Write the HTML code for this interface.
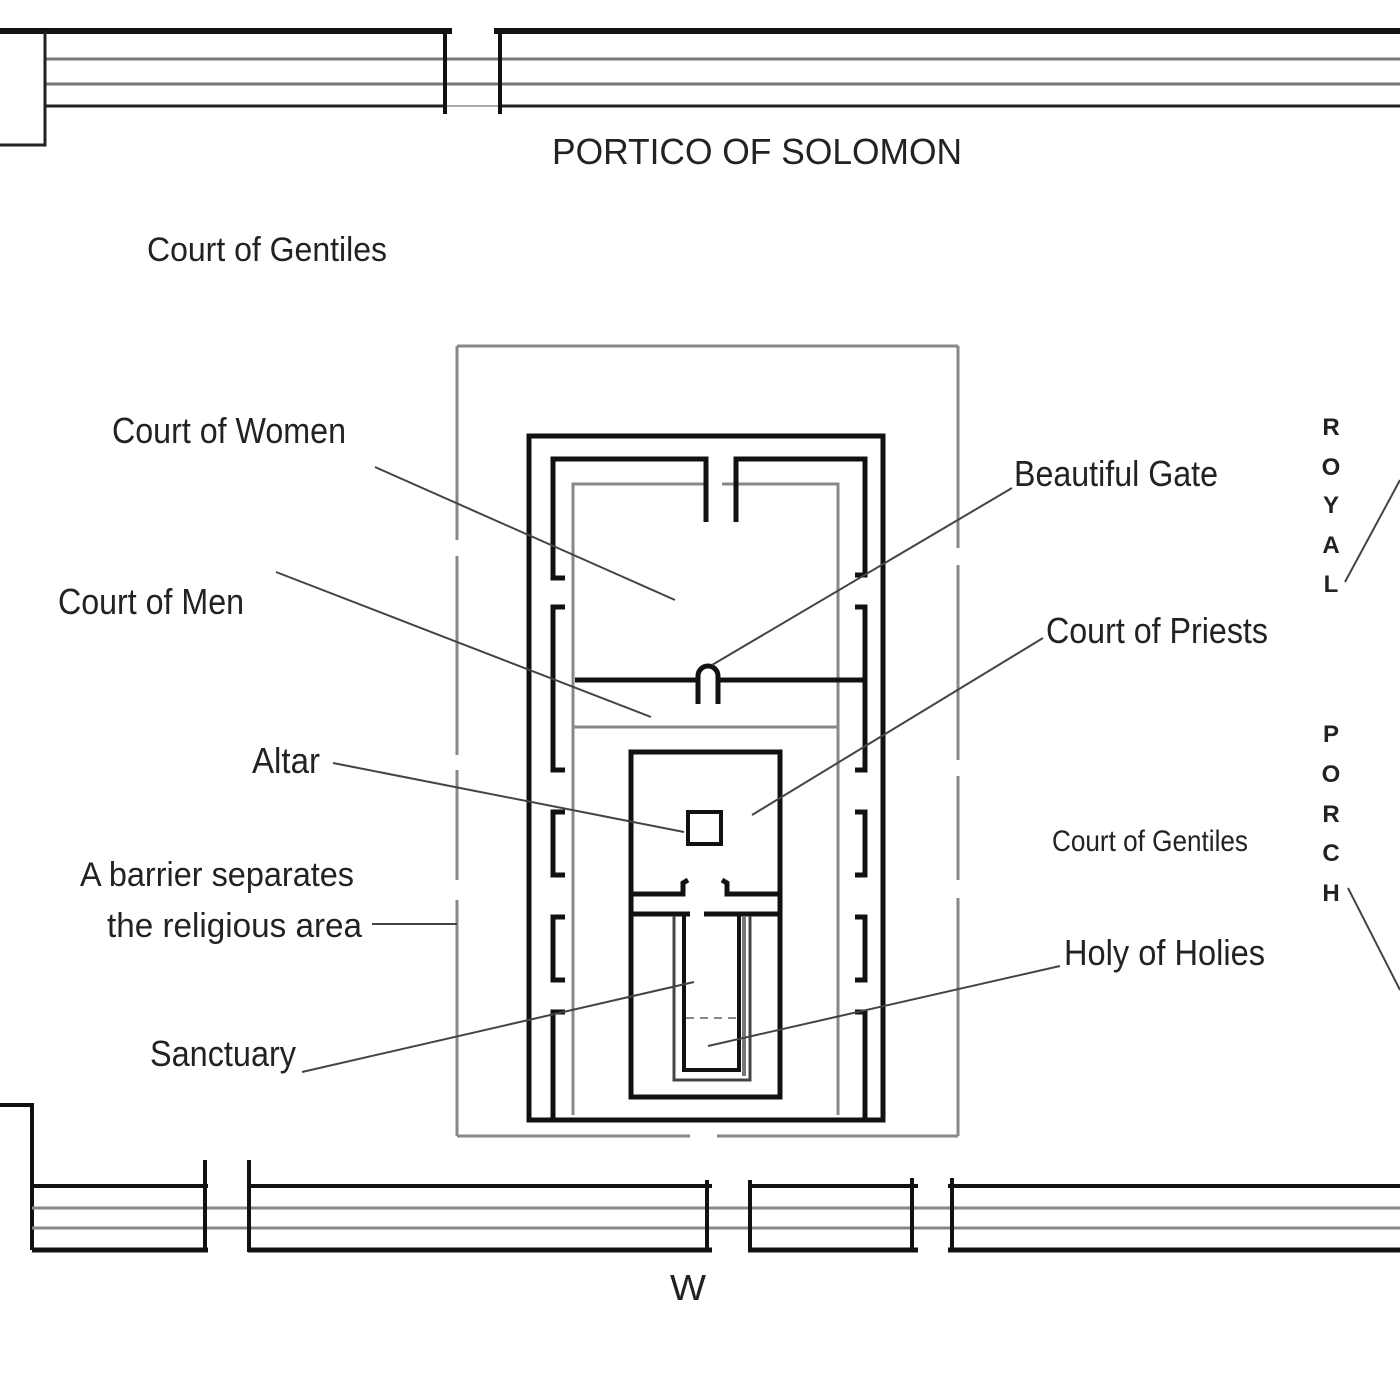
<!DOCTYPE html>
<html><head><meta charset="utf-8"><style>
html,body{margin:0;padding:0;background:#fff;}
svg{display:block}
text{font-family:"Liberation Sans",sans-serif;fill:#222;}
</style></head><body>
<svg width="1400" height="1400" viewBox="0 0 1400 1400" xmlns="http://www.w3.org/2000/svg">
<g fill="none" stroke-linecap="butt">
<!-- top portico -->
<line x1="0" y1="31" x2="452" y2="31" stroke="#111" stroke-width="6"/>
<line x1="494" y1="31" x2="1400" y2="31" stroke="#111" stroke-width="6"/>
<line x1="45" y1="59" x2="1400" y2="59" stroke="#777" stroke-width="3"/>
<line x1="45" y1="84" x2="1400" y2="84" stroke="#777" stroke-width="3"/>
<line x1="45" y1="106" x2="445" y2="106" stroke="#222" stroke-width="3"/>
<line x1="445" y1="106" x2="500" y2="106" stroke="#aaa" stroke-width="2"/>
<line x1="500" y1="106" x2="1400" y2="106" stroke="#222" stroke-width="3"/>
<polyline points="45,31 45,145 0,145" stroke="#222" stroke-width="3"/>
<line x1="445" y1="31" x2="445" y2="114" stroke="#111" stroke-width="4"/>
<line x1="500" y1="31" x2="500" y2="114" stroke="#111" stroke-width="4"/>
<!-- bottom portico -->
<polyline points="0,1105 32,1105 32,1250" stroke="#111" stroke-width="4"/>
<g stroke="#111" stroke-width="4">
<line x1="32" y1="1186" x2="208" y2="1186"/><line x1="248" y1="1186" x2="712" y2="1186"/><line x1="748" y1="1186" x2="918" y2="1186"/><line x1="948" y1="1186" x2="1400" y2="1186"/>
</g>
<g stroke="#111" stroke-width="5">
<line x1="32" y1="1250" x2="208" y2="1250"/><line x1="248" y1="1250" x2="712" y2="1250"/><line x1="748" y1="1250" x2="918" y2="1250"/><line x1="948" y1="1250" x2="1400" y2="1250"/>
</g>
<line x1="32" y1="1208" x2="1400" y2="1208" stroke="#888" stroke-width="3"/>
<line x1="32" y1="1228" x2="1400" y2="1228" stroke="#888" stroke-width="3"/>
<g stroke="#111" stroke-width="4">
<line x1="205" y1="1160" x2="205" y2="1252"/><line x1="249" y1="1160" x2="249" y2="1252"/>
<line x1="707" y1="1180" x2="707" y2="1252"/><line x1="750" y1="1180" x2="750" y2="1252"/>
<line x1="912" y1="1178" x2="912" y2="1252"/><line x1="952" y1="1178" x2="952" y2="1252"/>
</g>
<!-- outer gray barrier -->
<g stroke="#888" stroke-width="3">
<line x1="457" y1="346" x2="958" y2="346"/>
<polyline points="457,346 457,540"/><line x1="457" y1="556" x2="457" y2="755"/><line x1="457" y1="770" x2="457" y2="880"/><line x1="457" y1="900" x2="457" y2="1136"/>
<polyline points="958,346 958,548"/><line x1="958" y1="565" x2="958" y2="760"/><line x1="958" y1="776" x2="958" y2="880"/><line x1="958" y1="898" x2="958" y2="1136"/>
<line x1="457" y1="1136" x2="690" y2="1136"/><line x1="717" y1="1136" x2="958" y2="1136"/>
</g>
<!-- inner black rect -->
<rect x="529" y="436" width="354" height="684" stroke="#111" stroke-width="5"/>
<!-- gray inner rect -->
<g stroke="#888" stroke-width="3">
<polyline points="708,484 573,484 573,1115"/><polyline points="722,484 838,484 838,1115"/>
<line x1="573" y1="727" x2="838" y2="727"/>
</g>
<!-- court of women brackets -->
<g stroke="#111" stroke-width="5">
<polyline points="706,522 706,459 553,459 553,578 565,578"/>
<polyline points="736,522 736,459 865,459 865,575 855,575"/>
<polyline points="565,607 553,607 553,770 565,770"/>
<polyline points="855,607 865,607 865,770 855,770"/>
<polyline points="565,812 553,812 553,875 565,875"/>
<polyline points="855,812 865,812 865,875 855,875"/>
<polyline points="565,917 553,917 553,980 565,980"/>
<polyline points="855,917 865,917 865,980 855,980"/>
<polyline points="565,1012 553,1012 553,1118"/>
<polyline points="855,1012 865,1012 865,1118"/>
<line x1="575" y1="680" x2="697" y2="680"/><line x1="719" y1="680" x2="865" y2="680"/>
<path d="M698,704 L698,676 A10,10 0 0 1 718,676 L718,704"/>
<!-- priests -->
<rect x="631" y="752" width="149" height="345"/>
<rect x="688" y="812" width="33" height="32" stroke-width="4"/>
<polyline points="631,894 683,894 683,883 688,880"/>
<polyline points="780,894 727,894 727,883 722,880"/>
<line x1="631" y1="914" x2="690" y2="914"/><line x1="704" y1="914" x2="780" y2="914"/>
<polyline points="684,916 684,1070 739,1070 739,916" stroke-width="4"/>
</g>
<polyline points="674,916 674,1080 750,1080 750,916" stroke="#444" stroke-width="3"/>
<line x1="744" y1="916" x2="744" y2="1076" stroke="#777" stroke-width="4"/>
<line x1="686" y1="1018" x2="736" y2="1018" stroke="#888" stroke-width="2" stroke-dasharray="8,6"/>
<!-- leader lines -->
<g stroke="#444" stroke-width="2">
<line x1="375" y1="467" x2="675" y2="600"/>
<line x1="276" y1="572" x2="651" y2="717"/>
<line x1="333" y1="763" x2="684" y2="832"/>
<line x1="372" y1="924" x2="457" y2="924"/>
<line x1="302" y1="1072" x2="694" y2="982"/>
<line x1="1012" y1="488" x2="712" y2="665"/>
<line x1="1043" y1="638" x2="752" y2="815"/>
<line x1="1060" y1="966" x2="708" y2="1046"/>
<line x1="1345" y1="582" x2="1400" y2="480"/>
<line x1="1348" y1="888" x2="1400" y2="990"/>
</g>
</g>
<g>
<text x="552" y="164" font-size="36" textLength="410" lengthAdjust="spacingAndGlyphs">PORTICO  OF  SOLOMON</text>
<text x="147" y="261" font-size="34" textLength="240" lengthAdjust="spacingAndGlyphs">Court of Gentiles</text>
<text x="112" y="443" font-size="36" textLength="234" lengthAdjust="spacingAndGlyphs">Court of Women</text>
<text x="58" y="614" font-size="36" textLength="186" lengthAdjust="spacingAndGlyphs">Court of Men</text>
<text x="252" y="773" font-size="36" textLength="68" lengthAdjust="spacingAndGlyphs">Altar</text>
<text x="80" y="886" font-size="34" textLength="274" lengthAdjust="spacingAndGlyphs">A barrier separates</text>
<text x="107" y="937" font-size="34" textLength="255" lengthAdjust="spacingAndGlyphs">the  religious area</text>
<text x="150" y="1066" font-size="36" textLength="146" lengthAdjust="spacingAndGlyphs">Sanctuary</text>
<text x="1014" y="486" font-size="36" textLength="204" lengthAdjust="spacingAndGlyphs">Beautiful Gate</text>
<text x="1046" y="643" font-size="36" textLength="222" lengthAdjust="spacingAndGlyphs">Court of Priests</text>
<text x="1052" y="851" font-size="30" textLength="196" lengthAdjust="spacingAndGlyphs">Court of Gentiles</text>
<text x="1064" y="965" font-size="36" textLength="201" lengthAdjust="spacingAndGlyphs">Holy of Holies</text>
<text x="670" y="1300" font-size="36" textLength="36" lengthAdjust="spacingAndGlyphs">W</text>
<g font-size="24" font-weight="bold" text-anchor="middle">
<text x="1331" y="435">R</text><text x="1331" y="475">O</text><text x="1331" y="513">Y</text><text x="1331" y="553">A</text><text x="1331" y="592">L</text>
<text x="1331" y="742">P</text><text x="1331" y="782">O</text><text x="1331" y="822">R</text><text x="1331" y="861">C</text><text x="1331" y="901">H</text>
</g>
</g>
</svg>
</body></html>
